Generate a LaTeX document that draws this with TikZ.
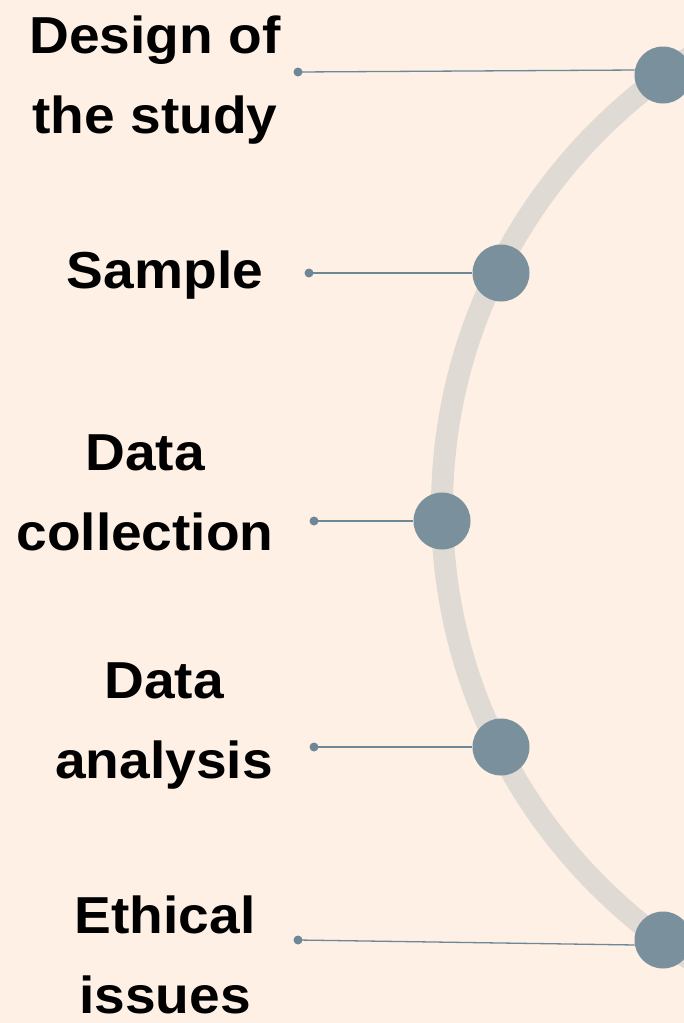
\documentclass[tikz,border=0pt]{standalone}
\usepackage{fontspec}
\newfontfamily\labelfont{Liberation Sans}[FakeStretch=1.06]
\usepackage{tikz}
\definecolor{paper}{HTML}{FEF0E4}
\definecolor{track}{HTML}{DFDAD3}
\definecolor{slate}{HTML}{7A909C}
\definecolor{wire}{HTML}{6E8797}
\tikzset{
    stage/.style={circle, fill=slate, inner sep=0pt, minimum size=57pt},
    pin/.style={circle, fill=wire, inner sep=0pt, minimum size=9pt},
    lead/.style={wire, line width=1.3pt},
    topic/.style={anchor=base, align=center, inner sep=0pt,
        font=\labelfont\bfseries\fontsize{52}{80}\selectfont}
}

\begin{document}
\begin{tikzpicture}[x=1pt, y=-1pt]
        \useasboundingbox (0,0) rectangle (684,1023);
        \fill[paper] (0,0) rectangle (684,1023);

        \begin{scope}
        \clip (0,0) rectangle (684,1023);
        \draw[track, line width=22pt] (976,508) circle (534);
        \end{scope}

        \node[stage] (stage1) at (663,75) {};
        \node[stage] (stage2) at (501,273) {};
        \node[stage] (stage3) at (442,521) {};
        \node[stage] (stage4) at (501,747) {};
        \node[stage] (stage5) at (663,940) {};

        \node[pin] (pin1) at (298,72) {};
        \node[pin] (pin2) at (309,273) {};
        \node[pin] (pin3) at (314,521) {};
        \node[pin] (pin4) at (314,747) {};
        \node[pin] (pin5) at (298,940) {};

        \draw[lead] (pin1.center) -- (stage1.170);
        \draw[lead] (pin2.center) -- (stage2.west);
        \draw[lead] (pin3.center) -- (stage3.west);
        \draw[lead] (pin4.center) -- (stage4.west);
        \draw[lead] (pin5.center) -- (stage5.190);

        % base anchor sits on the last line
        \node[topic] (design) at (155,133) {Design of\\the study};
        \node[topic] (sample) at (165,288) {Sample};
        \node[topic] (collection) at (145,550) {Data\\collection};
        \node[topic] (analysis) at (164,778) {Data\\analysis};
        \node[topic] (ethics) at (165,1013) {Ethical\\issues};
\end{tikzpicture}
\end{document}
